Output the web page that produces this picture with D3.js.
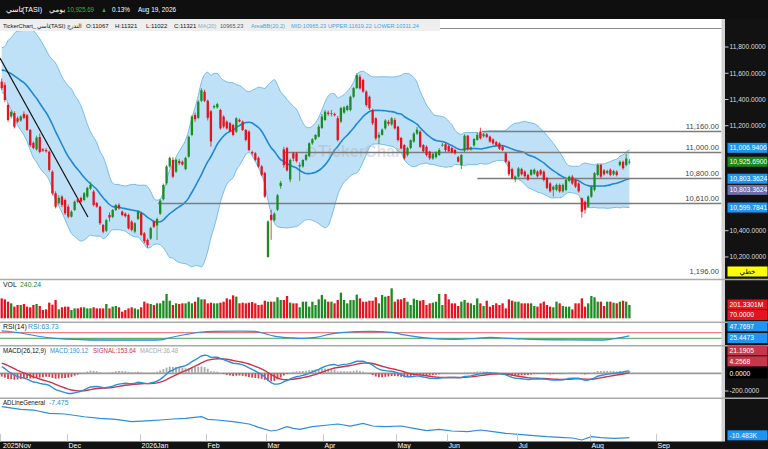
<!DOCTYPE html>
<html>
<head>
<meta charset="utf-8">
<script src="https://cdn.jsdelivr.net/npm/d3@7"></script>
<style>
html, body { margin: 0; padding: 0; background: #fff; overflow: hidden; }
svg { display: block; }
</style>
</head>
<body>
<svg id="chart" width="768" height="449"></svg>
<script>
// ---- data ----
// daily candles [open, high, low, close], TASI, Nov 2025 .. Aug 19 2026
var candles = [
  // Nov
  [11536,11560,11470,11486],[11510,11530,11380,11396],[11358,11370,11230,11244],[11270,11320,11255,11307],[11297,11310,11180,11193],
  [11257,11270,11220,11231],[11240,11280,11230,11270],[11290,11310,11250,11260],[11280,11290,11160,11168],[11168,11175,11040,11053],
  [11070,11080,11020,11030],[11020,11125,11010,11110],[11114,11140,10990,11000],[11020,11030,11000,11010],[11015,11030,10995,11005],
  [11002,11010,10850,10863],[10850,10860,10670,10685],[10685,10700,10570,10583],[10610,10670,10600,10650],[10660,10670,10580,10596],
  [10634,10645,10520,10533],
  // Dec
  [10583,10600,10495,10507],[10507,10555,10500,10545],[10558,10630,10550,10621],[10640,10650,10610,10620],[10650,10660,10610,10621],
  [10634,10695,10625,10685],[10660,10735,10650,10726],[10720,10770,10710,10750],[10698,10710,10585,10596],[10610,10620,10575,10583],
  [10583,10590,10445,10457],[10444,10450,10380,10393],[10400,10490,10390,10480],[10520,10540,10470,10500],[10505,10565,10495,10558],
  [10558,10605,10550,10596],[10596,10610,10560,10570],[10545,10555,10510,10520],[10530,10540,10500,10510],[10520,10530,10410,10418],
  [10469,10480,10395,10406],[10393,10465,10380,10457],[10490,10555,10480,10545],
  // Jan
  [10533,10545,10360,10368],[10380,10390,10305,10320],[10330,10340,10270,10290],[10340,10430,10330,10420],[10470,10480,10420,10430],
  [10440,10500,10330,10490],[10530,10640,10520,10630],[10640,10760,10630,10749],[10762,10900,10750,10890],[10890,10965,10880,10955],
  [10940,10960,10800,10812],[10850,10950,10840,10940],[10930,10945,10900,10915],[10925,10935,10895,10905],[10870,10965,10860,10955],
  [10964,11125,10955,11116],[11130,11280,11120,11270],[11282,11300,11230,11250],[11260,11395,11250,11383],[11390,11486,11380,11470],
  [11459,11475,11380,11390],
  // Feb
  [11390,11400,11240,11260],[11310,11320,11040,11080],[11340,11360,11330,11350],[11340,11375,11330,11365],[11320,11330,11170,11180],
  [11270,11280,11180,11193],[11231,11240,11170,11180],[11220,11230,11150,11160],[11206,11215,11120,11130],[11155,11265,11145,11257],
  [11245,11255,11225,11232],[11231,11240,11160,11168],[11168,11175,11080,11092],[11155,11165,11005,11015],[11000,11010,10975,10990],
  [10990,11000,10930,10940],[10955,10965,10880,10890],[10890,10900,10815,10825],[10840,10850,10650,10660],
  // Mar
  [10200,10480,10195,10470],[10520,10560,10330,10480],[10480,10540,10470,10530],[10560,10680,10550,10670],[10740,10780,10720,10765],
  [11020,11040,10880,10900],[11030,11040,10850,10860],[10790,10950,10770,10940],[10990,11000,10930,10950],[10990,11000,10920,10930],
  [10890,10920,10780,10900],[10890,10945,10880,10939],[10940,10985,10930,10977],[10970,11075,10960,11066],[11066,11105,11055,11097],
  [11097,11135,11090,11130],[11117,11210,11110,11193],[11183,11290,11175,11270],
  // Apr
  [11244,11320,11235,11307],[11300,11315,11275,11290],[11290,11320,11270,11295],[11290,11300,11270,11280],[11257,11275,11080,11091],
  [11231,11345,11220,11335],[11300,11350,11290,11340],[11320,11360,11310,11350],[11320,11430,11310,11421],[11421,11495,11410,11487],
  [11487,11600,11480,11587],[11574,11590,11475,11485],[11549,11560,11450,11460],[11460,11470,11345,11358],[11421,11430,11320,11333],
  [11320,11330,11205,11219],[11257,11265,11090,11104],[11110,11150,11060,11130],[11130,11180,11125,11170],[11180,11250,11170,11240],
  [11230,11245,11200,11215],[11210,11265,11200,11257],[11244,11260,11170,11180],
  // May
  [11193,11200,11080,11091],[11107,11115,11020,11028],[11053,11060,10940,10952],[10977,11040,10965,11030],[11030,11095,11020,11090],
  [11079,11150,11070,11140],[11140,11190,11130,11170],[11155,11165,11030,11040],[11053,11060,10995,11005],[11040,11050,10965,10977],
  [11002,11010,10940,10952],[10950,10995,10940,10985],[10960,11005,10950,10995],[10977,11030,10970,11015],[11050,11070,11040,11055],
  [11060,11070,11000,11015],
  // Jun
  [11045,11055,11000,11005],[11030,11040,10990,10995],[11015,11025,10980,10990],[10960,10970,10920,10927],[10900,10985,10870,10977],
  [11010,11135,11000,11124],[11124,11130,11010,11020],[11020,11040,11010,11035],[11050,11105,11040,11100],[11092,11150,11085,11130],
  [11155,11185,11095,11104],[11120,11145,11110,11135],[11135,11145,11105,11115],[11117,11125,11070,11079],[11095,11105,11055,11065],
  [11075,11085,11045,11053],[11065,11075,11015,11025],[11040,11050,11005,11015],[10990,11000,10915,10926],[10926,10935,10815,10830],
  [10870,10880,10790,10800],[10790,10820,10770,10812],
  // Jul
  [10812,10885,10805,10875],[10870,10880,10820,10830],[10850,10860,10805,10815],[10825,10835,10780,10790],[10825,10870,10815,10863],
  [10835,10875,10825,10865],[10850,10860,10805,10815],[10860,10870,10820,10830],[10850,10860,10775,10787],[10800,10810,10715,10725],
  [10760,10770,10690,10700],[10712,10745,10660,10735],[10712,10760,10700,10749],[10749,10760,10690,10700],[10700,10760,10690,10749],
  [10711,10795,10700,10787],[10780,10820,10770,10812],[10812,10825,10750,10760],[10787,10795,10725,10736],[10760,10770,10690,10700],
  [10647,10655,10500,10545],[10620,10630,10530,10560],
  // Aug
  [10583,10670,10575,10660],[10660,10745,10650,10736],[10711,10848,10700,10838],[10825,10910,10815,10901],[10901,10910,10800,10812],
  [10860,10870,10820,10830],[10840,10865,10830,10855],[10865,10875,10815,10825],[10830,10865,10820,10855],[10850,10860,10815,10825],
  [10900,10935,10890,10925],[10925,10935,10865,10876],[10900,10985,10890,10950],[10920,10945,10905,10925.69]
];

// volume, millions
var volumes = [
  301,286,251,226,176,201,201,216,176,166, 201,216,186,125,135,236,206,276,135,166,
  176,176,125,150,150,166,166,150,150,166, 150,150,150,216,150,176,186,166,100,125,
  150,166,150,135,166,251,226,216,201,226, 226,266,367,266,201,226,216,226,226,251,
  226,251,317,286,286,226,236,226,226,236, 251,301,286,347,327,226,236,226,236,246,
  226,201,206,266,251,251,251,317,276,276, 337,236,226,226,166,251,251,176,251,201,
  286,352,286,251,251,226,276,387,276,226, 276,276,357,301,251,251,266,266,317,226,
  352,327,337,452,251,286,286,307,251,201, 296,276,266,276,201,226,236,251,367,201,
  367,286,226,226,186,251,276,236,226,201, 301,226,186,266,176,201,226,201,226,150,
  286,266,251,251,226,226,226,226,186,176, 226,251,201,176,166,251,226,186,176,176,
  135,226,226,301,176,226,337,317,251,251, 186,251,251,236,226,251,266,251,201.33
];

// closes before the visible window, only to seed MA / BB / MACD
var warmupCloses = [
  10950,10980,11010,10990,11040,11080,11060,11110,11150,11140,
  11190,11230,11210,11260,11300,11290,11340,11380,11370,11420,
  11460,11450,11500,11540,11530,11580,11620,11600,11650,11690,
  11680,11720,11750,11730,11700,11710,11680,11650,11620,11590
];

// RSI(14) line as drawn (candle index, value)
var rsiIdx = [0,6,12,18,25,31,39,47,50,53,58,63,67,75,80,83,86,91,94,99,104,108,116,123,127,135,143,148,154,157,164,170,179,189,194,198];
var rsiVal = [84,68,43,27,20,16,16,16,18,34,57,75,80,82,80,63,46,34,30,37,61,73,80,73,54,30,23,27,37,34,25,20,18,16,30,47.77];

// AD line (candle index, thousands)
var adIdx = [0,6,10,15,20,26,31,36,41,47,50,54,58,63,65,68,73,78,81,85,87,90,92,94,98,103,106,110,114,117,121,126,130,134,138,142,147,151,155,159,163,168,172,176,180,183,186,189,193,197,198];
var adVal = [-7.475,-7.739,-7.807,-8.126,-8.193,-8.454,-8.609,-8.705,-8.937,-8.840,-8.773,-8.676,-8.609,-8.454,-8.705,-8.773,-8.937,-9.159,-9.478,-9.836,-9.739,-9.420,-9.575,-9.671,-9.420,-9.256,-9.159,-9.353,-9.092,-9.353,-9.420,-9.353,-9.575,-9.807,-9.671,-9.836,-9.903,-9.739,-9.903,-10.058,-10.154,-10.290,-10.386,-10.444,-10.512,-10.705,-10.386,-10.483,-10.541,-10.500,-10.483];

var monthLabels = ['2025Nov','Dec','2026Jan','Feb','Mar','Apr','May','Jun','Jul','Aug','Sep'];
var monthStart = [0,21,44,65,84,102,125,141,163,186,207];
var priceTicks = [11800,11600,11400,11200,10400,10200];

// drawn horizontal levels and the trend line
var levels = [11160,11000,10800,10610];
var levelFrom = [151.5,89.4,150,49.3];
var levelText = ['11,160.00','11,000.00','10,800.00','10,610.00'];
var trendLine = [[-0.54,11716],[27.2,10505]];

// ---- layout ----
var FONT = '"Liberation Sans", "DejaVu Sans", Arial, sans-serif';
var plotRight = 721.5;
var svg = d3.select('#chart').attr('font-family', FONT);

var x = d3.scaleLinear().domain([0, candles.length - 1]).range([1.7, 629.4]);
var yPrice = d3.scaleLinear().domain([10032, 11922]).range([279, 31]);
var yVol = d3.scaleLinear().domain([0, 578]).range([318.3, 280]);
var yRsi = d3.scaleLinear().domain([30, 70]).range([338.3, 332.7]);
var yMacd = d3.scaleLinear().domain([-200, 0]).range([391, 373.3]);
var yAd = d3.scaleLinear().domain([-10.483, -7.475]).range([437.7, 406.6]);

var green = '#1c8c22', red = '#e3141e', blue = '#2a8fd6';

// ---- indicators ----
var off = warmupCloses.length;
var allCloses = warmupCloses.concat(candles.map(function(d) { return d[3]; }));

var bb = candles.map(function(d, i) {
  var w = allCloses.slice(off + i - 19, off + i + 1);
  var m = d3.mean(w);
  var sd = Math.sqrt(d3.mean(w, function(v) { return (v - m) * (v - m); }));
  return { i: i, mid: m, up: m + 2 * sd, lo: m - 2 * sd };
});

function ema(arr, n) {
  var k = 2 / (n + 1), prev = arr[0];
  return arr.map(function(v, i) { prev = i === 0 ? v : v * k + prev * (1 - k); return prev; });
}
var e12 = ema(allCloses, 12), e26 = ema(allCloses, 26);
var macdAll = e12.map(function(v, i) { return v - e26[i]; });
var sigAll = ema(macdAll, 9);
var macd = candles.map(function(d, i) {
  return { i: i, m: macdAll[off + i], s: sigAll[off + i], h: macdAll[off + i] - sigAll[off + i] };
});

// ---- frame ----
svg.append('rect').attr('width', 768).attr('height', 449).attr('fill', '#fff');
svg.append('rect').attr('x', 725).attr('y', 0).attr('width', 43).attr('height', 449).attr('fill', '#121212');
svg.append('rect').attr('x', plotRight).attr('y', 19).attr('width', 3.5).attr('height', 423).attr('fill', '#d2d2d2');

var defs = svg.append('defs');
defs.append('clipPath').attr('id', 'clipPrice')
  .append('rect').attr('x', 0).attr('y', 29).attr('width', plotRight).attr('height', 250);

// top drawn line
svg.append('line').attr('x1', 0).attr('x2', plotRight).attr('y1', 28.5).attr('y2', 28.5)
  .attr('stroke', '#8a8a8a').attr('stroke-width', 1.2);

// ---- price panel ----
var gp = svg.append('g').attr('clip-path', 'url(#clipPrice)');

gp.append('path').datum(bb)
  .attr('fill', '#bfe1f8')
  .attr('d', d3.area().x(function(d) { return x(d.i); })
    .y0(function(d) { return yPrice(d.lo); }).y1(function(d) { return yPrice(d.up); })
    .curve(d3.curveMonotoneX));

['up', 'lo'].forEach(function(k) {
  gp.append('path').datum(bb).attr('fill', 'none').attr('stroke', '#6db4e4').attr('stroke-width', 0.9)
    .attr('d', d3.line().x(function(d) { return x(d.i); }).y(function(d) { return yPrice(d[k]); }).curve(d3.curveMonotoneX));
});
gp.append('path').datum(bb).attr('fill', 'none').attr('stroke', '#1f88d3').attr('stroke-width', 1.6)
  .attr('d', d3.line().x(function(d) { return x(d.i); }).y(function(d) { return yPrice(d.mid); }).curve(d3.curveMonotoneX));

// watermark
gp.append('circle').attr('cx', 311).attr('cy', 152).attr('r', 4.5).attr('fill', 'none')
  .attr('stroke', '#9aa7b3').attr('stroke-opacity', 0.35).attr('stroke-width', 1.5);
gp.append('text').attr('x', 318).attr('y', 157).attr('font-size', 16).attr('font-weight', 'bold')
  .attr('fill', '#9aa7b3').attr('fill-opacity', 0.35).text('TickerChart');

// level lines
levels.forEach(function(p, k) {
  var yy = Math.round(yPrice(p)) + 0.5;
  gp.append('line').attr('x1', x(levelFrom[k])).attr('x2', plotRight).attr('y1', yy).attr('y2', yy)
    .attr('stroke', '#7d7d7d').attr('stroke-width', 1.3);
  svg.append('text').attr('x', 719).attr('y', yy - 3).attr('text-anchor', 'end')
    .attr('font-size', 7.6).attr('fill', '#444').text(levelText[k]);
});
svg.append('text').attr('x', 719).attr('y', 274).attr('text-anchor', 'end')
  .attr('font-size', 7.6).attr('fill', '#444').text('1,196.00');

// trend line
gp.append('line')
  .attr('x1', x(trendLine[0][0])).attr('y1', yPrice(trendLine[0][1]))
  .attr('x2', x(trendLine[1][0])).attr('y2', yPrice(trendLine[1][1]))
  .attr('stroke', '#111').attr('stroke-width', 1.2);

// candles
var gc = gp.append('g').selectAll('g').data(candles).enter().append('g');
gc.append('line')
  .attr('x1', function(d, i) { return x(i); }).attr('x2', function(d, i) { return x(i); })
  .attr('y1', function(d) { return yPrice(d[1]); }).attr('y2', function(d) { return yPrice(d[2]); })
  .attr('stroke', function(d) { return d[3] >= d[0] ? green : red; }).attr('stroke-width', 0.8);
gc.append('rect')
  .attr('x', function(d, i) { return x(i) - 1.15; }).attr('width', 2.3)
  .attr('y', function(d) { return yPrice(Math.max(d[0], d[3])); })
  .attr('height', function(d) { return Math.max(0.8, Math.abs(yPrice(d[0]) - yPrice(d[3]))); })
  .attr('fill', function(d) { return d[3] >= d[0] ? green : red; });

// ---- panel separators ----
[279.5, 322.3, 345.7, 398.3].forEach(function(yy) {
  svg.append('line').attr('x1', 0).attr('x2', 768).attr('y1', yy).attr('y2', yy)
    .attr('stroke', '#aaa').attr('stroke-width', 1.4);
});

// ---- volume ----
svg.append('g').selectAll('rect').data(volumes).enter().append('rect')
  .attr('x', function(d, i) { return x(i) - 1.15; }).attr('width', 2.3)
  .attr('y', function(d) { return yVol(d); })
  .attr('height', function(d) { return yVol(0) - yVol(d); })
  .attr('fill', function(d, i) { return candles[i][3] >= candles[i][0] ? green : red; });

// ---- RSI ----
var rsiPts = rsiIdx.map(function(v, k) { return [x(v), yRsi(rsiVal[k])]; });
defs.append('clipPath').attr('id', 'clipHi').append('rect').attr('x', 0).attr('y', 322).attr('width', plotRight).attr('height', yRsi(70) - 322);
defs.append('clipPath').attr('id', 'clipLo').append('rect').attr('x', 0).attr('y', yRsi(30)).attr('width', plotRight).attr('height', 345 - yRsi(30));
svg.append('path').datum(rsiPts).attr('clip-path', 'url(#clipHi)').attr('fill', '#f3b9bd')
  .attr('d', d3.area().x(function(d) { return d[0]; }).y0(yRsi(70)).y1(function(d) { return d[1]; }).curve(d3.curveMonotoneX));
svg.append('path').datum(rsiPts).attr('clip-path', 'url(#clipLo)').attr('fill', '#6fc39b')
  .attr('d', d3.area().x(function(d) { return d[0]; }).y0(yRsi(30)).y1(function(d) { return d[1]; }).curve(d3.curveMonotoneX));
svg.append('line').attr('x1', 0).attr('x2', plotRight).attr('y1', yRsi(70)).attr('y2', yRsi(70)).attr('stroke', '#e2565c').attr('stroke-width', 0.9);
svg.append('line').attr('x1', 0).attr('x2', plotRight).attr('y1', yRsi(30)).attr('y2', yRsi(30)).attr('stroke', '#3c9a4a').attr('stroke-width', 0.9);
svg.append('path').datum(rsiPts).attr('fill', 'none').attr('stroke', blue).attr('stroke-width', 1.2)
  .attr('d', d3.line().curve(d3.curveMonotoneX));

// ---- MACD ----
svg.append('line').attr('x1', 0).attr('x2', plotRight).attr('y1', yMacd(0)).attr('y2', yMacd(0))
  .attr('stroke', '#9a9a9a').attr('stroke-width', 1.8);
svg.append('g').selectAll('rect').data(macd).enter().append('rect')
  .attr('x', function(d) { return x(d.i) - 0.9; }).attr('width', 1.8)
  .attr('y', function(d) { return Math.min(yMacd(0), yMacd(d.h)); })
  .attr('height', function(d) { return Math.abs(yMacd(d.h) - yMacd(0)); })
  .attr('fill', function(d) { return d.h >= 0 ? '#a9a9a9' : '#d9424c'; });
svg.append('path').datum(macd).attr('fill', 'none').attr('stroke', '#c8364a').attr('stroke-width', 1.4)
  .attr('d', d3.line().x(function(d) { return x(d.i); }).y(function(d) { return yMacd(d.s); }));
svg.append('path').datum(macd).attr('fill', 'none').attr('stroke', blue).attr('stroke-width', 1.4)
  .attr('d', d3.line().x(function(d) { return x(d.i); }).y(function(d) { return yMacd(d.m); }));

// ---- AD line ----
svg.append('path').datum(adIdx.map(function(v, k) { return [x(v), yAd(adVal[k])]; }))
  .attr('fill', 'none').attr('stroke', blue).attr('stroke-width', 1.2)
  .attr('d', d3.line());

// ---- time axis ----
svg.append('rect').attr('x', 0).attr('y', 441.5).attr('width', 768).attr('height', 7.5).attr('fill', '#121212');
monthStart.forEach(function(idx, k) {
  var xx = k === 0 ? 0.5 : Math.round(x(idx - 0.5)) + 0.5;
  svg.append('line').attr('x1', xx).attr('x2', xx).attr('y1', 434).attr('y2', 441.5)
    .attr('stroke', '#c8c8c8').attr('stroke-width', 1);
  svg.append('text').attr('x', xx + (k === 0 ? 2.5 : 1)).attr('y', 447.6)
    .attr('font-size', 7).attr('fill', '#fff').text(monthLabels[k]);
});

// ---- texts ----
function label(xx, yy, s, color, size, len) {
  var t = svg.append('text').attr('x', xx).attr('y', yy).attr('font-size', size || 6.9).attr('fill', color).text(s);
  if (len) t.attr('textLength', len).attr('lengthAdjust', 'spacingAndGlyphs');
  return t;
}
label(3, 286.5, 'VOL', '#111'); label(20, 286.5, '240.24', '#1c8c22');
label(3, 328.5, 'RSI(14)', '#111'); label(28, 328.5, 'RSI:63.73', blue);
label(3, 352.5, 'MACD(26,12,9)', '#111', 6.9, 43); label(50, 352.5, 'MACD:190.12', blue, 6.9, 38);
label(93, 352.5, 'SIGNAL:153.64', '#c8364a', 6.9, 43); label(140, 352.5, 'MACDH:36.48', '#aaa', 6.9, 38);
label(3, 404.5, 'ADLineGeneral', '#111', 6.9, 42); label(49, 404.5, '-7.475', blue);

// header
svg.append('rect').attr('x', 0).attr('y', 0).attr('width', 768).attr('height', 19).attr('fill', '#0f0f0f');
label(6, 12, 'تاسي', '#fff', 7.5); label(22, 12, '(TASI)', '#fff', 8, 20);
label(49, 12, 'يومي', '#fff', 7.5); label(67, 12, '10,925.69', '#2fbf35', 8, 27);
label(101.5, 11.5, '▲', '#2fbf35', 6.5, 5); label(112, 12, '0.13%', '#fff', 8, 18); label(138, 12, 'Aug 19, 2026', '#fff', 8, 38);

// info row
svg.append('rect').attr('x', 0).attr('y', 19).attr('width', 440).attr('height', 12).attr('fill', '#eeeeee');
label(3, 27.6, 'TickerChart_', '#111', 5.8); label(37, 27.6, 'تاسي', '#111', 5.8);
label(49, 27.6, '(TASI)', '#111', 5.8);
label(67, 27.6, 'التدرج', '#111', 5.8);
label(86, 27.6, 'O:11067', '#111', 6); label(115, 27.6, 'H:11321', '#111', 6);
label(146, 27.6, 'L:11022', '#111', 6); label(174, 27.6, 'C:11321', '#111', 6);
label(198, 27.6, 'MA(20)', '#8fa9c4', 5.6); label(220, 27.6, '10965.23', '#555', 5.6);
label(251, 27.6, 'AreaBB(20,2)', '#4aa3df', 5.6); label(291, 27.6, 'MID:10965.23', '#4aa3df', 5.6);
label(328, 27.6, 'UPPER:11619.22', '#4aa3df', 5.6); label(374, 27.6, 'LOWER:10311.24', '#4aa3df', 5.6);

// ---- right axis ----
function tick(yy, s) {
  svg.append('line').attr('x1', 725).attr('x2', 728.5).attr('y1', yy).attr('y2', yy).attr('stroke', '#ccc');
  svg.append('text').attr('x', 729.5).attr('y', yy + 2.3).attr('font-size', 6.6).attr('fill', '#ddd').text(s);
}
priceTicks.forEach(function(p) { tick(yPrice(p), d3.format(',.4f')(p)); });
tick(yMacd(-200), '-200.0000');

function box(cy, s, fill, color) {
  svg.append('rect').attr('x', 727.5).attr('y', cy - 5).attr('width', 40).attr('height', 10).attr('fill', fill);
  svg.append('text').attr('x', 729.5).attr('y', cy + 2.4).attr('font-size', 6.8).attr('fill', color || '#fff').text(s);
}
var last = bb[bb.length - 1];
box(yPrice(last.up) - 2, '11,006.9406', '#1f95f2');
box(yPrice(10925.69), '10,925.6900', '#1b8a1b');
box(yPrice(last.mid), '10,803.3624', '#1f95f2');
box(yPrice(last.mid) + 11.2, '10,803.3624', '#6d6fa8');
box(yPrice(last.lo), '10,599.7841', '#1f95f2');
svg.append('rect').attr('x', 727.5).attr('y', 266.5).attr('width', 40).attr('height', 10).attr('fill', '#ffff00');
svg.append('text').attr('x', 747.5).attr('y', 274).attr('text-anchor', 'middle').attr('font-size', 7).attr('fill', '#000').text('خطي');
box(304.5, '201.3301M', '#e3141e');
box(315, '70.0000', '#e3141e');
box(326.3, '47.7697', '#1f95f2');
box(338, '25.4473', '#1f95f2');
box(350.3, '21.1905', '#c8364a');
box(361.3, '4.2568', '#c8364a');
box(373.3, '0.0000', '#000');
box(435.3, '-10.483K', '#1f95f2');
</script>
</body>
</html>
